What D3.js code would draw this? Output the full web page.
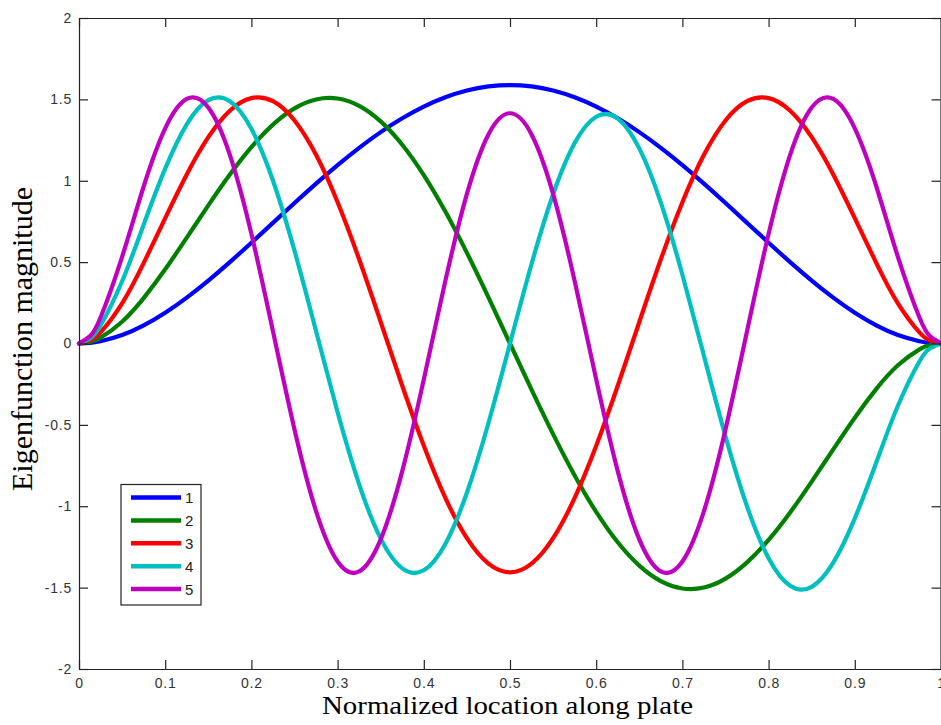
<!DOCTYPE html>
<html>
<head>
<meta charset="utf-8">
<script src="https://cdn.jsdelivr.net/npm/d3@7/dist/d3.min.js"></script>
<style>
  html, body { margin: 0; padding: 0; background: #fff; }
  svg { display: block; }
</style>
</head>
<body>
<svg id="chart" width="941" height="725"></svg>
<script>
// ---- data ----
const xGrid = [0, 0.0125, 0.025, 0.05, 0.075, 0.1, 0.125, 0.15, 0.175, 0.2, 0.225, 0.25, 0.275, 0.3, 0.325, 0.35, 0.375, 0.4, 0.425, 0.45, 0.475, 0.5,
  0.525, 0.55, 0.575, 0.6, 0.625, 0.65, 0.675, 0.7, 0.725, 0.75, 0.775, 0.8, 0.825, 0.85, 0.875, 0.9, 0.925, 0.95, 0.975, 0.9875, 1];

const mode1 = [0, 0.0034, 0.0134, 0.0516, 0.1112, 0.1891, 0.2820, 0.3867, 0.5002, 0.6194, 0.7413, 0.8631, 0.9822, 1.0960, 1.2022, 1.2987, 1.3837, 1.4554, 1.5127, 1.5544, 1.5797, 1.5881,
  1.5797, 1.5544, 1.5127, 1.4554, 1.3837, 1.2987, 1.2022, 1.0960, 0.9822, 0.8631, 0.7413, 0.6194, 0.5002, 0.3867, 0.2820, 0.1891, 0.1112, 0.0516, 0.0134, 0.0034, 0];

const mode2 = [0, 0.0093, 0.0360, 0.1340, 0.2789, 0.4557, 0.6502, 0.8485, 1.0379, 1.2067, 1.3451, 1.4449, 1.4997, 1.5055, 1.4605, 1.3650, 1.2215, 1.0346, 0.8105, 0.5572, 0.2838, 0,
  -0.2838, -0.5572, -0.8105, -1.0346, -1.2215, -1.3650, -1.4605, -1.5055, -1.4997, -1.4449, -1.3451, -1.2067, -1.0379, -0.8485, -0.6502, -0.4557, -0.2789, -0.1340, -0.0360, -0.0093, 0];

const mode3 = [0, 0.0180, 0.0686, 0.2469, 0.4939, 0.7700, 1.0387, 1.2676, 1.4303, 1.5077, 1.4887, 1.3706, 1.1592, 0.8682, 0.5175, 0.1323, -0.2597, -0.6284, -0.9488, -1.1965, -1.3530, -1.4062,
  -1.3530, -1.1965, -0.9488, -0.6284, -0.2597, 0.1323, 0.5175, 0.8682, 1.1592, 1.3706, 1.4887, 1.5077, 1.4303, 1.2676, 1.0387, 0.7700, 0.4939, 0.2469, 0.0686, 0.0180, 0];

const mode4 = [0, 0.0294, 0.1102, 0.3822, 0.7302, 1.0745, 1.3467, 1.4951, 1.4887, 1.3192, 1.0015, 0.5704, 0.0760, -0.4226, -0.8654, -1.1987, -1.3821, -1.3933, -1.2314, -0.9167, -0.4883, 0,
  0.4883, 0.9167, 1.2314, 1.3933, 1.3821, 1.1987, 0.8654, 0.4226, -0.0760, -0.5704, -1.0015, -1.3192, -1.4887, -1.4951, -1.3467, -1.0745, -0.7302, -0.3822, -0.1102, -0.0294, 0];

const mode5 = [0, 0.0433, 0.1597, 0.5325, 0.9647, 1.3218, 1.5024, 1.4500, 1.1592, 0.6736, 0.0760, -0.5279, -1.0299, -1.3394, -1.4008, -1.2035, -0.7842, -0.2202, 0.3845, 0.9189, 1.2846, 1.4146,
  1.2846, 0.9189, 0.3845, -0.2202, -0.7842, -1.2035, -1.4008, -1.3394, -1.0299, -0.5279, 0.0760, 0.6736, 1.1592, 1.4500, 1.5024, 1.3218, 0.9647, 0.5325, 0.1597, 0.0433, 0];

const seriesNames = ["1", "2", "3", "4", "5"];
const seriesColors = ["#0000ff", "#008000", "#ff0000", "#00bfbf", "#bf00bf"];

const xTickValues = [0, 0.1, 0.2, 0.3, 0.4, 0.5, 0.6, 0.7, 0.8, 0.9, 1];
const xTickLabels = ["0", "0.1", "0.2", "0.3", "0.4", "0.5", "0.6", "0.7", "0.8", "0.9", "1"];
const yTickValues = [-2, -1.5, -1, -0.5, 0, 0.5, 1, 1.5, 2];
const yTickLabels = ["-2", "-1.5", "-1", "-0.5", "0", "0.5", "1", "1.5", "2"];

const xLabel = "Normalized location along plate";
const yLabel = "Eigenfunction magnitude";

// ---- layout ----
(function () {
const W = 941, H = 725;
const plotL = 79, plotR = 941, plotT = 18, plotB = 669;

const svg = d3.select("#chart");
svg.append("rect").attr("width", W).attr("height", H).attr("fill", "#fff");

const x = d3.scaleLinear().domain([0, 1]).range([plotL, plotR]);
const y = d3.scaleLinear().domain([-2, 2]).range([plotB, plotT]);

const allSeries = [mode1, mode2, mode3, mode4, mode5];

// curves
const line = d3.line()
  .x((d, i) => x(xGrid[i]))
  .y(d => y(d))
  .curve(d3.curveNatural);

const curves = svg.append("g");
allSeries.forEach((s, k) => {
  curves.append("path")
    .datum(s)
    .attr("d", line)
    .attr("fill", "none")
    .attr("stroke", seriesColors[k])
    .attr("stroke-width", 4.2)
    .attr("stroke-linejoin", "round")
    .attr("stroke-linecap", "round");
});

// axes
const tickFont = "'Liberation Sans', Arial, sans-serif";
const axisColor = "#222";

const xAxis = d3.axisBottom(x).tickValues(xTickValues)
  .tickFormat((d, i) => xTickLabels[i]).tickSizeInner(-9).tickSizeOuter(0).tickPadding(9);
const yAxis = d3.axisLeft(y).tickValues(yTickValues)
  .tickFormat((d, i) => yTickLabels[i]).tickSizeInner(-9).tickSizeOuter(0).tickPadding(7);
const xAxisTop = d3.axisTop(x).tickValues(xTickValues).tickFormat("").tickSizeInner(-9).tickSizeOuter(0);
const yAxisRight = d3.axisRight(y).tickValues(yTickValues).tickFormat("").tickSizeInner(-9).tickSizeOuter(0);

function styleAxis(g) {
  g.selectAll("path.domain").attr("stroke", axisColor).attr("stroke-width", 1.2);
  g.selectAll(".tick line").attr("stroke", axisColor).attr("stroke-width", 1.2);
  g.selectAll(".tick text").attr("fill", "#333").style("font-family", tickFont)
    .style("font-size", "14px").style("letter-spacing", "0.8px");
}

svg.append("g").attr("transform", `translate(0,${plotB})`).call(xAxis).call(styleAxis);
svg.append("g").attr("transform", `translate(${plotL},0)`).call(yAxis).call(styleAxis);
svg.append("g").attr("transform", `translate(0,${plotT})`).call(xAxisTop).call(styleAxis);
svg.append("g").attr("transform", `translate(${plotR - 0.5},0)`).call(yAxisRight).call(styleAxis);

// axis labels
svg.append("text")
  .attr("x", 507.5).attr("y", 714)
  .attr("text-anchor", "middle")
  .attr("textLength", 371).attr("lengthAdjust", "spacingAndGlyphs")
  .style("font-family", "'Liberation Serif', 'Times New Roman', serif")
  .style("font-size", "25px")
  .attr("fill", "#000")
  .text(xLabel);

svg.append("text")
  .attr("transform", "translate(32,339) rotate(-90)")
  .attr("text-anchor", "middle")
  .attr("textLength", 304).attr("lengthAdjust", "spacingAndGlyphs")
  .style("font-family", "'Liberation Serif', 'Times New Roman', serif")
  .style("font-size", "29px")
  .attr("fill", "#000")
  .text(yLabel);

// legend
const leg = svg.append("g");
leg.append("rect")
  .attr("x", 121).attr("y", 484.5).attr("width", 80).attr("height", 120.5)
  .attr("fill", "#fff").attr("stroke", "#222").attr("stroke-width", 1.2);
seriesNames.forEach((name, k) => {
  const yy = 497.5 + k * 22.9;
  leg.append("line")
    .attr("x1", 131).attr("x2", 181).attr("y1", yy).attr("y2", yy)
    .attr("stroke", seriesColors[k]).attr("stroke-width", 4.5);
  leg.append("text")
    .attr("x", 185).attr("y", yy).attr("dy", "0.36em")
    .style("font-family", tickFont).style("font-size", "15px")
    .attr("fill", "#222")
    .text(name);
});
})();
</script>
</body>
</html>
